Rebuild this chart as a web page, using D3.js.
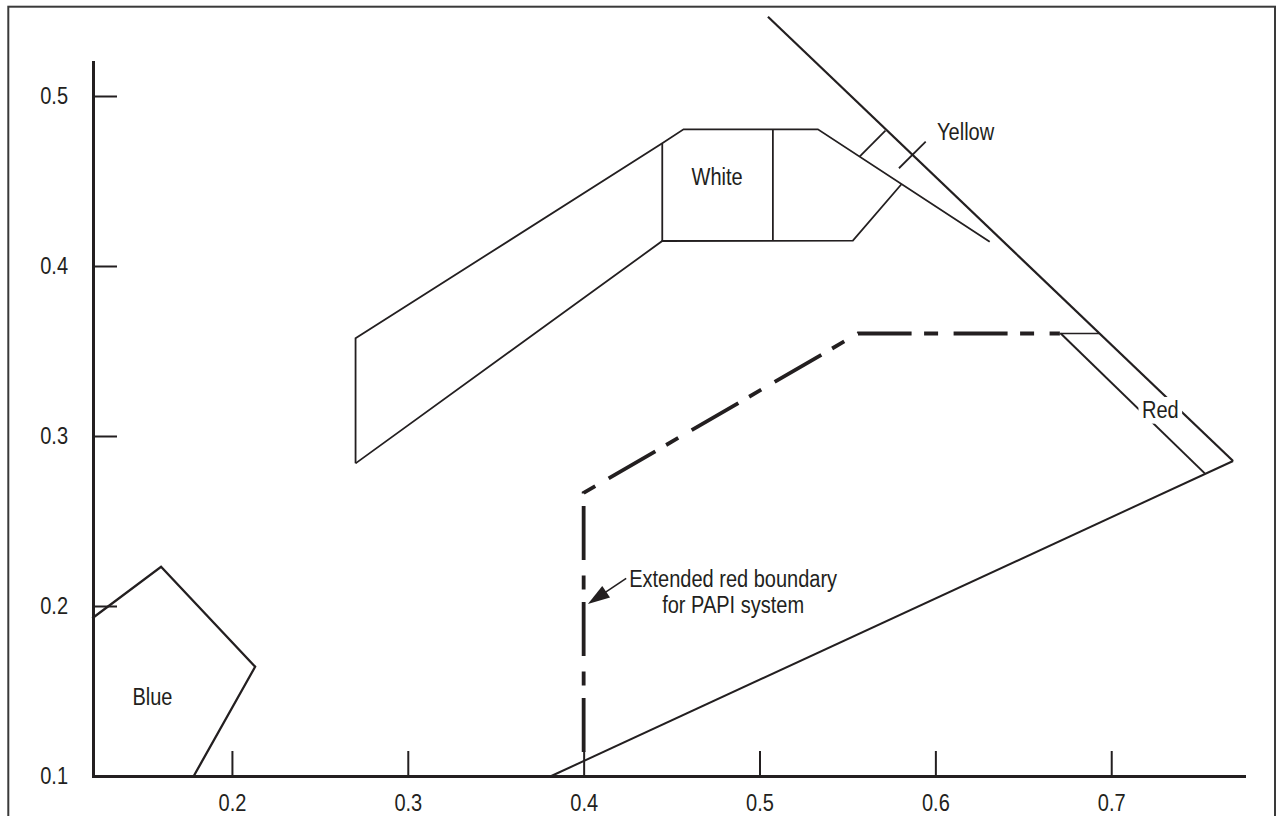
<!DOCTYPE html>
<html>
<head>
<meta charset="utf-8">
<script src="https://cdn.jsdelivr.net/npm/d3@7"></script>
<style>
  body { margin: 0; background: #fff; }
  svg { display: block; }
  text { font-family: "Liberation Sans", Arial, Helvetica, sans-serif; fill: #231f20; }
</style>
</head>
<body>
<svg id="chart" width="1278" height="816"></svg>
<script>
// ---------- data (CIE x, y chromaticity coordinates) ----------
const xTicks = [0.2, 0.3, 0.4, 0.5, 0.6, 0.7];
const yTicks = [0.1, 0.2, 0.3, 0.4, 0.5];
const xDomain = [0.121, 0.7755];
const yDomain = [0.1, 0.52];

const blueBoundary = [[0.1206, 0.1928], [0.1597, 0.2231], [0.2132, 0.1643], [0.1783, 0.1]];
const whiteUpper = [[0.2703, 0.2839], [0.2703, 0.3575], [0.4447, 0.4722], [0.4568, 0.4804], [0.5332, 0.4804], [0.6309, 0.4143]];
const whiteLower = [[0.2703, 0.2839], [0.4447, 0.4147], [0.5531, 0.4149], [0.5807, 0.4481]];
const whiteDividerA = [[0.4447, 0.4722], [0.4447, 0.4147]];
const whiteDividerB = [[0.5076, 0.4804], [0.5076, 0.4147]];
const yellowDivider = [[0.5569, 0.4643], [0.5716, 0.4796]];
const yellowLeader = [[0.5793, 0.4575], [0.5945, 0.4731]];
const spectrumLine = [[0.5048, 0.5466], [0.7693, 0.2853]];
const purpleLine = [[0.3816, 0.1], [0.7693, 0.2853]];
const redInner = [[0.6713, 0.3603], [0.7532, 0.278]];
const redTop = [[0.6708, 0.3603], [0.6931, 0.3603]];
const papiBoundary = [[0.4, 0.1141], [0.4, 0.2665], [0.556, 0.3603], [0.6708, 0.3603]];
const arrowTail = [0.4242, 0.2163];
const arrowTip = [0.4024, 0.2012];

const labelTexts = ["Blue", "White", "Yellow", "Red", "Extended red boundary", "for PAPI system"];
const labelAnchors = [[0.1548, 0.1418], [0.4759, 0.4476], [0.6172, 0.4741], [0.7279, 0.3104], [0.4850, 0.2114], [0.4850, 0.1957]];
const labelKnockout = [false, false, false, true, false, false];

// ---------- drawing ----------
const INK = "#231f20";
const FONT = 23, SQUEEZE = 0.87;
const svg = d3.select("#chart");

svg.append("rect")
  .attr("x", 8.3).attr("y", 6.7).attr("width", 1266.7).attr("height", 840)
  .attr("fill", "none").attr("stroke", "#3a3a3a").attr("stroke-width", 2);

const x = d3.scaleLinear().domain(xDomain).range([93, 1244]);
const y = d3.scaleLinear().domain(yDomain).range([776, 62]);

function squeezeText(sel) {
  sel.selectAll(".tick text").each(function () {
    const t = d3.select(this);
    const tx = +t.attr("x") || 0, ty = +t.attr("y") || 0;
    t.attr("x", null).attr("y", null)
     .attr("transform", `translate(${tx},${ty}) scale(${SQUEEZE},1)`)
     .attr("fill", INK);
  });
}

const gx = svg.append("g").attr("transform", "translate(0,776)")
  .call(d3.axisBottom(x).tickValues(xTicks).tickSize(-25).tickSizeOuter(0)
        .tickPadding(19).tickFormat(d3.format(".1f")));
const gy = svg.append("g").attr("transform", "translate(93,0)")
  .call(d3.axisLeft(y).tickValues(yTicks).tickSize(-24).tickSizeOuter(0)
        .tickPadding(25).tickFormat(d3.format(".1f")));
[gx, gy].forEach(g => {
  g.attr("font-size", FONT).attr("font-family", '"Liberation Sans", Arial, Helvetica, sans-serif');
  g.select(".domain").attr("stroke", INK).attr("stroke-width", 3).attr("stroke-linecap", "square");
  g.selectAll(".tick line").attr("stroke", INK).attr("stroke-width", 2);
  squeezeText(g);
});
gy.selectAll(".tick").filter(d => d === 0.1).select("line").remove();

const line = d3.line().x(d => x(d[0])).y(d => y(d[1]));
const plot = svg.append("g").attr("fill", "none").attr("stroke", INK)
  .attr("stroke-linejoin", "miter");

function draw(pts, w, dash) {
  const p = plot.append("path").attr("d", line(pts)).attr("stroke-width", w);
  if (dash) p.attr("stroke-dasharray", dash);
  return p;
}

draw(blueBoundary, 2.3);
draw(whiteUpper, 1.8);
draw(whiteLower, 1.8);
draw(whiteDividerA, 1.8);
draw(whiteDividerB, 1.8);
draw(yellowDivider, 1.8);
draw(yellowLeader, 1.8);
draw(spectrumLine, 2.2);
draw(purpleLine, 2);
draw(redInner, 2);
draw(redTop, 1.6);
draw(papiBoundary, 3.8, "54,12.5,14,15.5");

// arrow
{
  const tp = [x(arrowTip[0]), y(arrowTip[1])];
  const tl = [x(arrowTail[0]), y(arrowTail[1])];
  const dx = tp[0] - tl[0], dy = tp[1] - tl[1], L = Math.hypot(dx, dy);
  const ux = dx / L, uy = dy / L, hl = 22, hw = 7;
  const bx = tp[0] - ux * hl, by = tp[1] - uy * hl;
  svg.append("line").attr("x1", tl[0]).attr("y1", tl[1]).attr("x2", bx + ux * 2).attr("y2", by + uy * 2)
    .attr("stroke", INK).attr("stroke-width", 1.6);
  svg.append("path")
    .attr("d", `M${tp[0]},${tp[1]}L${bx - uy * hw},${by + ux * hw}L${bx + uy * hw},${by - ux * hw}Z`)
    .attr("fill", INK);
}

// labels
labelTexts.forEach((txt, i) => {
  const [lx, ly] = labelAnchors[i];
  const g = svg.append("g")
    .attr("transform", `translate(${x(lx)},${y(ly)}) scale(${SQUEEZE},1)`);
  const t = g.append("text").attr("text-anchor", "middle").attr("font-size", FONT).text(txt);
  if (labelKnockout[i]) {
    const bb = t.node().getBBox();
    g.insert("rect", "text").attr("x", bb.x - 4).attr("y", bb.y)
      .attr("width", bb.width + 8).attr("height", bb.height).attr("fill", "#fff");
  }
});
</script>
</body>
</html>
